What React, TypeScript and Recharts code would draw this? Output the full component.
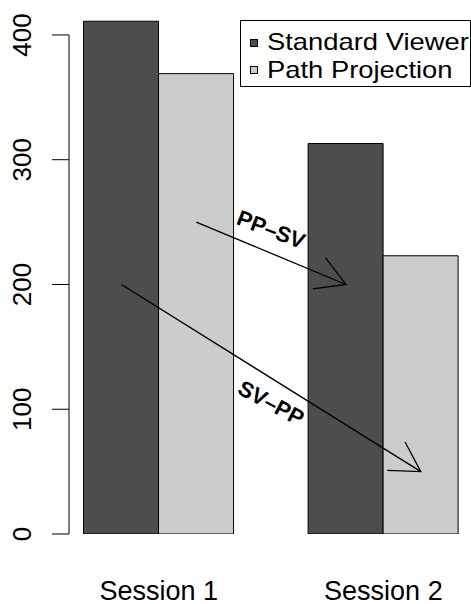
import React from 'react';
import { BarChart, Bar, XAxis, YAxis, Legend, ReferenceLine, ReferenceDot } from 'recharts';

// ---- data ----
const sessions = ['Session 1', 'Session 2'];
const standardViewer = [411, 313];
const pathProjection = [369, 223];
const seriesNames = ['Standard Viewer', 'Path Projection'];
const seriesColors = ['#4d4d4d', '#cccccc'];
const yTicks = [0, 100, 200, 300, 400];
// annotation arrows, x in bar-slot units (R barplot positions), y in value units
const arrowLabels = ['PP–SV', 'SV–PP'];
const arrowFrom = [[2.5, 250], [1.5, 200]];
const arrowTo = [[4.5, 200], [5.5, 50]];
const arrowTextAt = [[3.5, 244], [3.5, 105]];
const arrowTextAngle = [21, 28];
const xLimits: [number, number] = [0.8, 6.2];
const yDomain: [number, number] = [0, 420];

const data = sessions.map((s, i) => ({ session: s, sv: standardViewer[i], pp: pathProjection[i] }));

// ---- layout ----
const FONT = 'Liberation Sans, Arial, Helvetica, sans-serif';
const CHART_W = 474;
const CHART_H = 604;
const AXIS_W = 69;
const MARGIN = { top: 10, right: 0.8, bottom: 0, left: 0 };
const unitPx = (CHART_W - MARGIN.right - AXIS_W) / (xLimits[1] - xLimits[0]);
const catPad = -(xLimits[0] - 0.5) * unitPx;

const YTick = (props: any) => {
  const { x, y, payload } = props;
  return (
    <text x={x} y={y} transform={`rotate(-90 ${x} ${y})`} textAnchor="middle" fontSize={26} fontFamily={FONT} fill="#000">
      {payload.value}
    </text>
  );
};

const XTick = (props: any) => {
  const { x, y, payload } = props;
  return (
    <text x={x} y={y + 65.5} textAnchor="middle" fontSize={27} fontFamily={FONT} fill="#000">
      {payload.value}
    </text>
  );
};

const ArrowShape = (props: any) => {
  const { x1, y1, x2, y2 } = props;
  const ang = Math.atan2(y2 - y1, x2 - x1);
  const len = 33.5;
  const spread = Math.PI / 6;
  const ax = x2 - len * Math.cos(ang - spread);
  const ay = y2 - len * Math.sin(ang - spread);
  const bx = x2 - len * Math.cos(ang + spread);
  const by = y2 - len * Math.sin(ang + spread);
  return (
    <g>
      <line x1={x1} y1={y1} x2={x2} y2={y2} stroke="#000" strokeWidth={1.3} />
      <polyline points={`${ax},${ay} ${x2},${y2} ${bx},${by}`} fill="none" stroke="#000" strokeWidth={1.3} />
    </g>
  );
};

const AxisLineShape = (props: any) => {
  const { x1, y1, x2, y2 } = props;
  return <line x1={x1} y1={y1} x2={x2} y2={y2} stroke="#000" strokeWidth={1} />;
};

const LegendBox = () => (
  <div
    style={{
      boxSizing: 'border-box',
      position: 'relative',
      width: 231,
      height: 67,
      border: '1px solid #000',
      background: '#fff',
      fontFamily: FONT,
      fontSize: 24,
      color: '#000',
    }}
  >
    {seriesNames.map((n, i) => (
      <React.Fragment key={n}>
        <span
          style={{
            position: 'absolute',
            boxSizing: 'border-box',
            left: 9,
            top: 18 + i * 26.5,
            width: 8,
            height: 8,
            border: '1px solid #000',
            background: seriesColors[i],
          }}
        />
        <span
          style={{
            position: 'absolute',
            left: 26,
            top: 7.2 + i * 27.3,
            lineHeight: '27px',
            whiteSpace: 'nowrap',
            display: 'inline-block',
            transform: 'scaleX(1.14)',
            transformOrigin: '0 0',
          }}
        >
          {n}
        </span>
      </React.Fragment>
    ))}
  </div>
);

export default function App() {
  return (
    <div style={{ position: 'absolute', left: 0, top: 0, width: 471, height: 604, overflow: 'hidden', background: '#fff' }}>
      <BarChart width={CHART_W} height={CHART_H} data={data} margin={MARGIN} barGap={0} barSize={75}>
        <XAxis
          dataKey="session"
          axisLine={false}
          tickLine={false}
          tickSize={0}
          tickMargin={0}
          height={70}
          padding={{ left: catPad, right: catPad }}
          tick={<XTick />}
          interval={0}
        />
        <XAxis xAxisId="n" dataKey="sv" type="number" scale="linear" domain={xLimits} allowDataOverflow hide />
        <YAxis
          width={AXIS_W}
          domain={yDomain}
          ticks={yTicks}
          interval={0}
          axisLine={false}
          tickLine={{ stroke: '#000', strokeWidth: 1 }}
          tickSize={17}
          tickMargin={21}
          tick={<YTick />}
          allowDataOverflow
        />
        <Legend
          layout="horizontal"
          verticalAlign="middle"
          align="center"
          content={<LegendBox />}
          wrapperStyle={{ left: 240, top: 20, width: 231, height: 67 }}
        />
        <Bar dataKey="sv" name={seriesNames[0]} fill={seriesColors[0]} stroke="#000" strokeWidth={1} isAnimationActive={false} />
        <Bar dataKey="pp" name={seriesNames[1]} fill={seriesColors[1]} stroke="#000" strokeWidth={1} isAnimationActive={false} />
        <ReferenceLine
          xAxisId="n"
          segment={[{ x: xLimits[0], y: yTicks[0] }, { x: xLimits[0], y: yTicks[yTicks.length - 1] }]}
          shape={AxisLineShape}
        />
        {arrowLabels.map((lab, i) => (
          <ReferenceLine
            key={`arrow-${lab}`}
            xAxisId="n"
            segment={[{ x: arrowFrom[i][0], y: arrowFrom[i][1] }, { x: arrowTo[i][0], y: arrowTo[i][1] }]}
            shape={ArrowShape}
          />
        ))}
        {arrowLabels.map((lab, i) => (
          <ReferenceDot
            key={`label-${lab}`}
            xAxisId="n"
            x={arrowTextAt[i][0]}
            y={arrowTextAt[i][1]}
            r={0}
            shape={(p: any) => (
              <text
                x={p.cx}
                y={p.cy}
                transform={`rotate(${arrowTextAngle[i]} ${p.cx} ${p.cy})`}
                textAnchor="middle"
                dominantBaseline="central"
                fontWeight="bold"
                fontSize={22}
                fontFamily={FONT}
                fill="#000"
              >
                {lab}
              </text>
            )}
          />
        ))}
      </BarChart>
    </div>
  );
}
